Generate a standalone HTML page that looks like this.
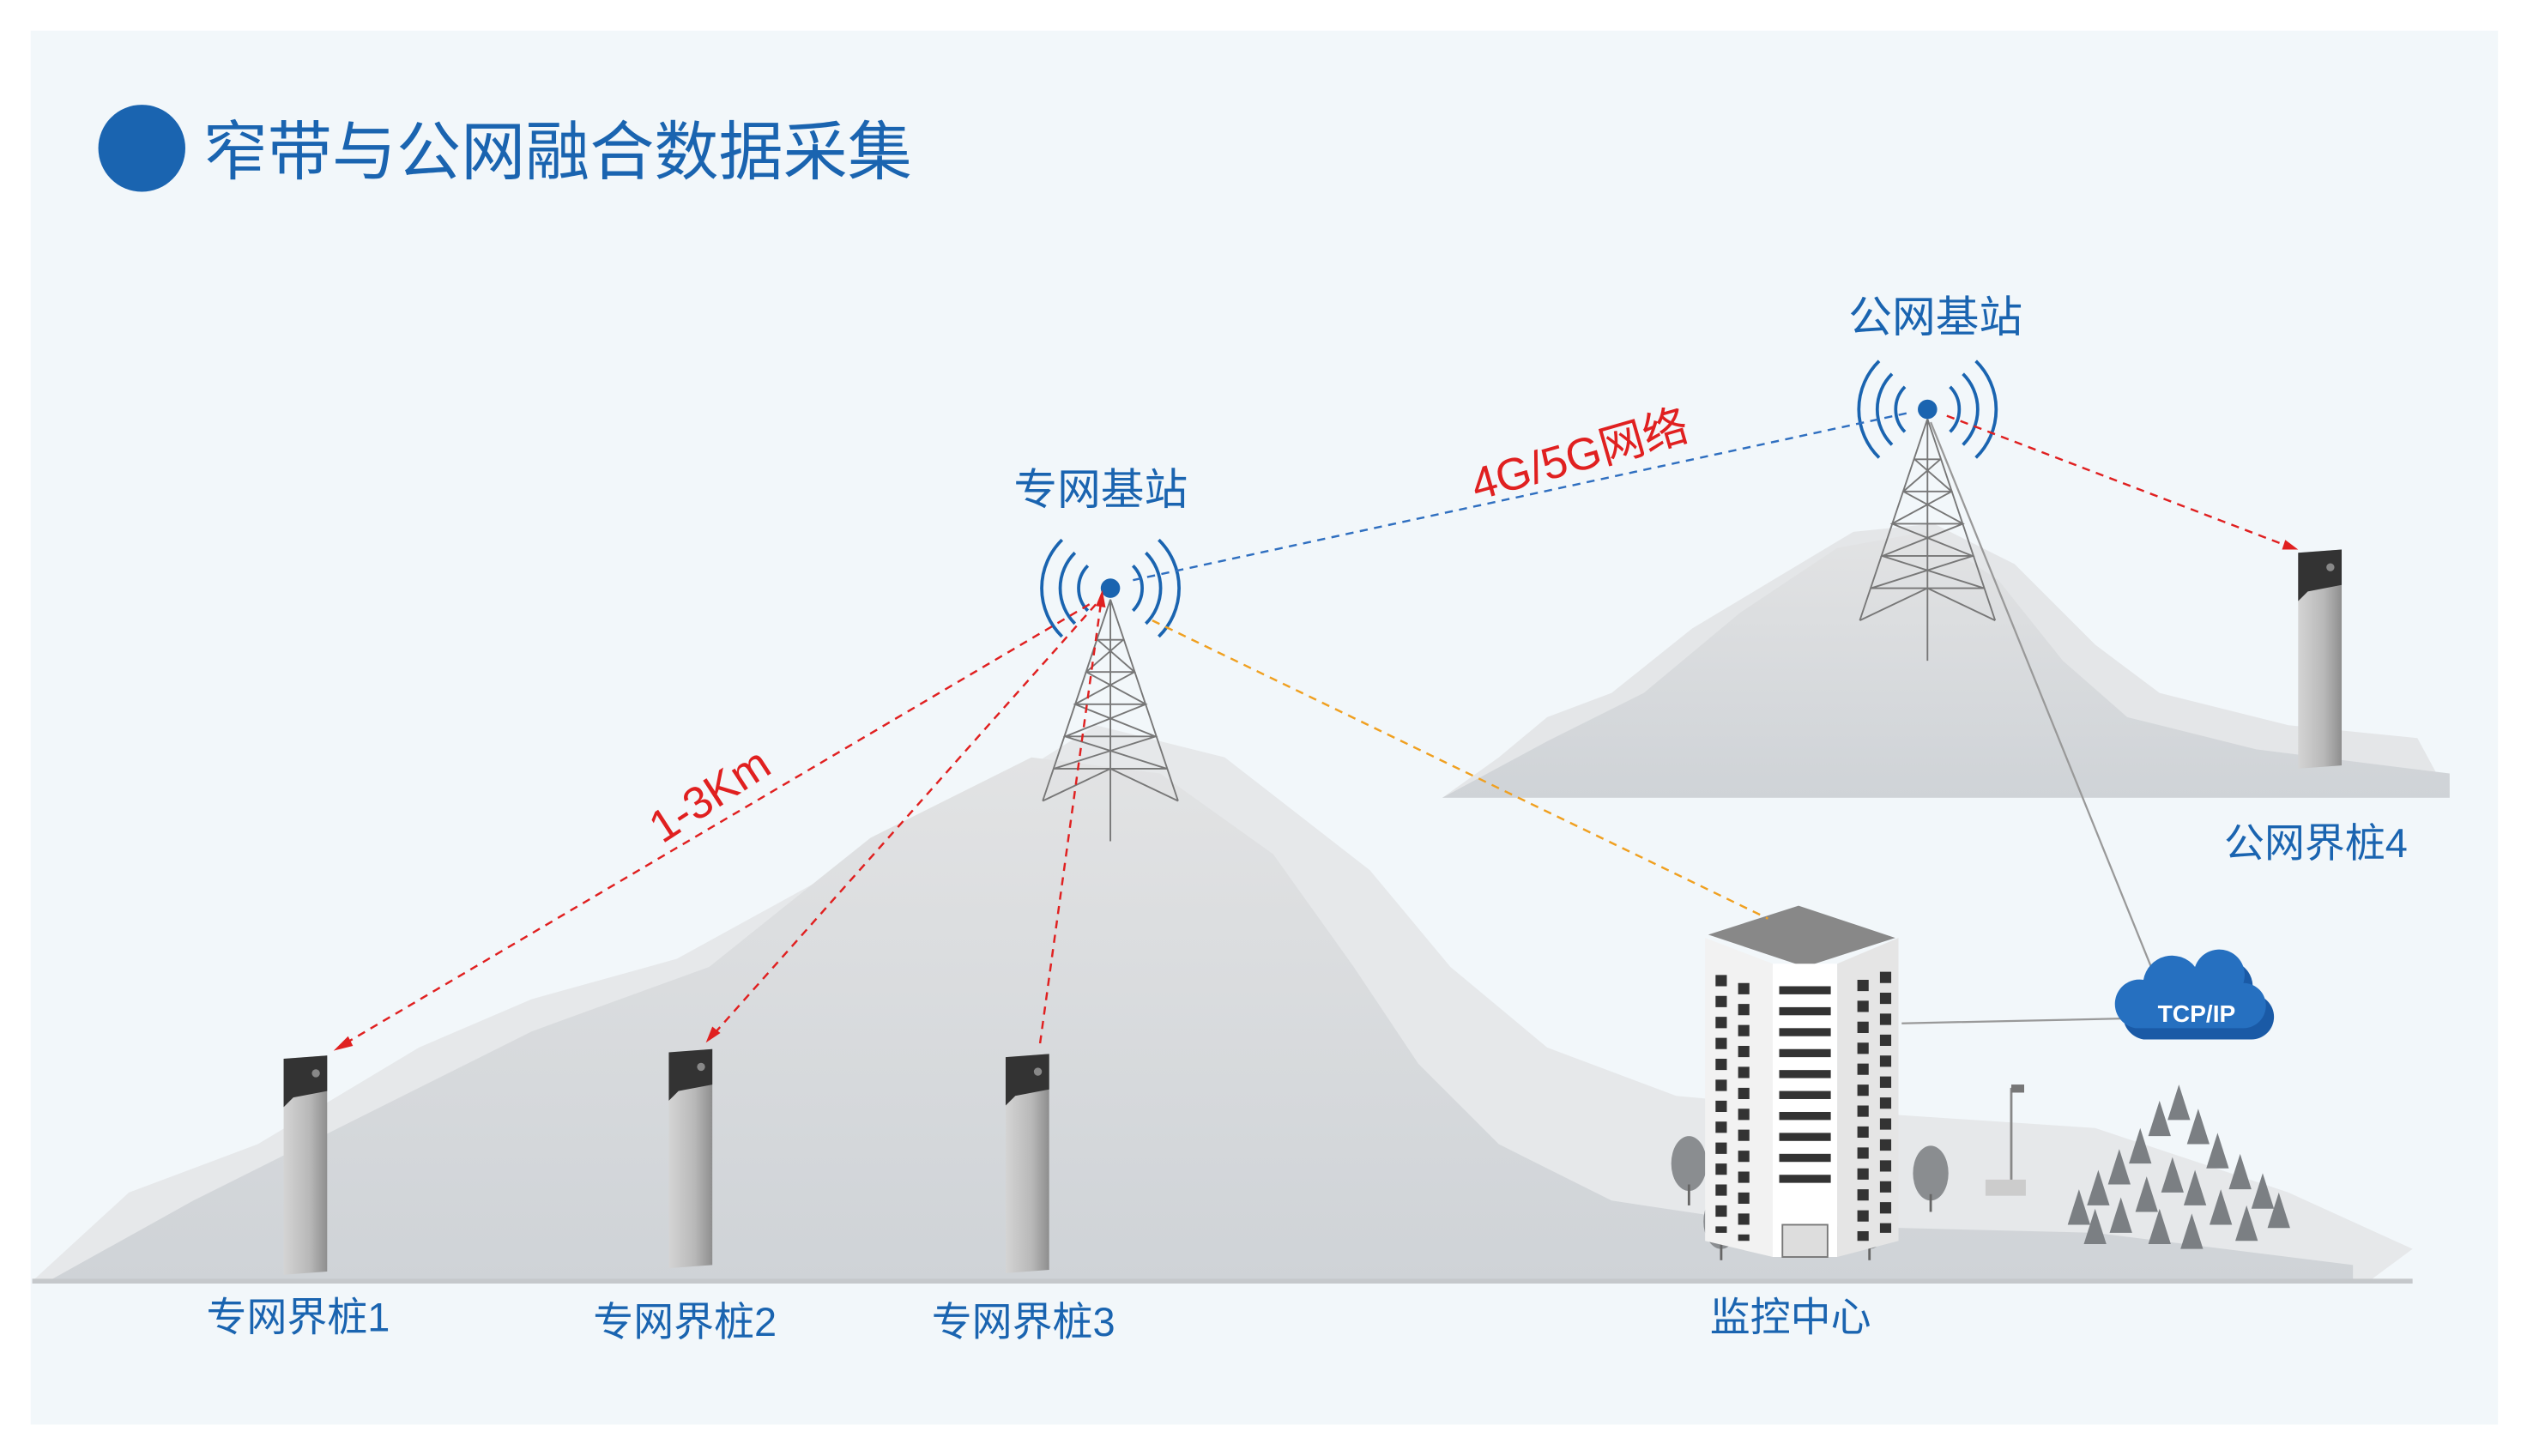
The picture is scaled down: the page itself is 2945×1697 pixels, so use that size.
<!DOCTYPE html>
<html><head><meta charset="utf-8"><style>
html,body{margin:0;padding:0;background:#fff;}
svg{display:block;}
text{font-family:"Liberation Sans","Noto Sans CJK SC",sans-serif;}
</style></head><body>
<svg width="2945" height="1697" viewBox="0 0 1568 903.5" preserveAspectRatio="none" xmlns="http://www.w3.org/2000/svg">
<defs>
<linearGradient id="mt" x1="0" y1="0" x2="0" y2="1"><stop offset="0" stop-color="#e2e3e4"/><stop offset="1" stop-color="#cfd3d7"/></linearGradient>
<linearGradient id="post" x1="0" y1="0" x2="1" y2="0"><stop offset="0" stop-color="#d4d4d4"/><stop offset="0.6" stop-color="#b8b8b8"/><stop offset="1" stop-color="#8e8e8e"/></linearGradient>
<g id="tower" stroke="#777" stroke-width="1" fill="none">
<path d="M0,0 L-42,125 M0,0 L42,125 M0,0 L0,150 M-8,25 L8,25 M-15,45 L15,45 M-22,65 L22,65 M-28,85 L28,85 M-35,105 L35,105 M-8,25 L15,45 L-22,65 L28,85 L-35,105 M8,25 L-15,45 L22,65 L-28,85 L35,105 M-42,125 L0,105 L42,125"/>
</g>
<g id="pst">
<polygon points="0,0 27,-2 27,132 0,134" fill="url(#post)"/>
<polygon points="0,0 27,-2 27,20 6,24 0,30" fill="#333"/>
<circle cx="20" cy="9" r="2.5" fill="#888"/>
</g>
<g id="waves" fill="none" stroke="#1a64b0" stroke-width="2">
<path d="M-14,-14 A20,20 0 0 0 -14,14 M-22,-22 A31,31 0 0 0 -22,22 M-30,-30 A42,42 0 0 0 -30,30 M14,-14 A20,20 0 0 1 14,14 M22,-22 A31,31 0 0 1 22,22 M30,-30 A42,42 0 0 1 30,30"/>
</g>
<path id="cf" d="M0,-22 L7,0 L-7,0 Z"/>
</defs>
<rect width="1568" height="903.5" fill="#fff"/>
<rect x="19" y="19" width="1531" height="865" fill="#f2f7fa"/>
<circle cx="88" cy="92" r="27" fill="#1a64b0"/>
<text x="126" y="108" font-size="40" fill="#1a64b0">窄带与公网融合数据采集</text>

<path d="M895,495 L930,470 L960,445 L1000,430 L1050,390 L1100,360 L1150,330 L1200,325 L1250,350 L1300,400 L1340,430 L1420,450 L1500,458 L1520,495 Z" fill="#e4e6e8"/>
<path d="M895,495 L960,460 L1020,430 L1080,380 L1140,340 L1195,330 L1240,360 L1280,410 L1320,445 L1400,465 L1520,480 L1520,495 Z" fill="url(#mt)"/>

<path d="M20,795 L80,740 L160,710 L260,650 L330,620 L420,595 L520,540 L600,500 L680,450 L760,470 L850,540 L900,600 L960,650 L1040,680 L1150,690 L1300,700 L1420,740 L1497,775 L1470,795 Z" fill="#e6e8ea"/>
<path d="M30,795 L120,745 L230,690 L330,640 L440,600 L540,520 L640,470 L720,480 L790,530 L840,600 L880,660 L930,710 L1000,745 L1100,760 L1300,765 L1460,785 L1460,795 Z" fill="url(#mt)"/>
<path d="M20,795 L1497,795" stroke="#c5c8cb" stroke-width="3"/>

<g fill="#7b7f83">
<use href="#cf" x="1290" y="760"/><use href="#cf" x="1302" y="748"/><use href="#cf" x="1315" y="735"/><use href="#cf" x="1328" y="722"/><use href="#cf" x="1340" y="705"/><use href="#cf" x="1352" y="695"/><use href="#cf" x="1364" y="710"/><use href="#cf" x="1376" y="725"/><use href="#cf" x="1390" y="738"/><use href="#cf" x="1404" y="750"/><use href="#cf" x="1414" y="762"/>
<use href="#cf" x="1300" y="772"/><use href="#cf" x="1316" y="765"/><use href="#cf" x="1332" y="752"/><use href="#cf" x="1348" y="740"/><use href="#cf" x="1362" y="748"/><use href="#cf" x="1378" y="760"/><use href="#cf" x="1394" y="770"/><use href="#cf" x="1340" y="772"/><use href="#cf" x="1360" y="775"/>
</g>
<g fill="#8a8d90"><ellipse cx="1048" cy="722" rx="11" ry="17"/><ellipse cx="1068" cy="758" rx="11" ry="17"/><ellipse cx="1198" cy="728" rx="11" ry="17"/><ellipse cx="1160" cy="758" rx="11" ry="17"/></g>
<g stroke="#666" stroke-width="1.5"><line x1="1048" y1="735" x2="1048" y2="748"/><line x1="1068" y1="771" x2="1068" y2="782"/><line x1="1198" y1="741" x2="1198" y2="752"/><line x1="1160" y1="771" x2="1160" y2="782"/></g>
<line x1="1248" y1="675" x2="1248" y2="735" stroke="#888" stroke-width="1.5"/>
<rect x="1248" y="673" width="8" height="5" fill="#777"/>
<rect x="1232" y="732" width="25" height="10" fill="#ccc"/>

<polygon points="1060,580 1116,562 1176,582 1120,600" fill="#888"/>
<polygon points="1058,582 1100,598 1100,780 1058,770" fill="#f2f2f2"/>
<polygon points="1100,598 1140,598 1140,780 1100,780" fill="#fff"/>
<polygon points="1140,598 1178,582 1178,770 1140,780" fill="#e5e5e5"/>
<g fill="#333">
<rect x="1104" y="612" width="32" height="5"/><rect x="1104" y="625" width="32" height="5"/><rect x="1104" y="638" width="32" height="5"/><rect x="1104" y="651" width="32" height="5"/><rect x="1104" y="664" width="32" height="5"/><rect x="1104" y="677" width="32" height="5"/><rect x="1104" y="690" width="32" height="5"/><rect x="1104" y="703" width="32" height="5"/><rect x="1104" y="716" width="32" height="5"/><rect x="1104" y="729" width="32" height="5"/>
</g>
<g stroke="#333" stroke-width="7" stroke-dasharray="7 6">
<line x1="1068" y1="605" x2="1068" y2="765"/><line x1="1082" y1="610" x2="1082" y2="770"/>
<line x1="1156" y1="608" x2="1156" y2="770"/><line x1="1170" y1="603" x2="1170" y2="765"/>
</g>
<rect x="1106" y="760" width="28" height="20" fill="#ddd" stroke="#777"/>

<use href="#tower" x="689" y="372"/>
<use href="#tower" x="1196" y="260"/>
<use href="#waves" x="689" y="365"/>
<use href="#waves" x="1196" y="254"/>
<circle cx="689" cy="365" r="6" fill="#1a64b0"/>
<circle cx="1196" cy="254" r="6" fill="#1a64b0"/>

<use href="#pst" x="176" y="657"/>
<use href="#pst" x="415" y="653"/>
<use href="#pst" x="624" y="656"/>
<use href="#pst" x="1426" y="343"/>

<g fill="none" stroke-width="1.3" stroke-dasharray="5 4">
<path d="M676,375 L210,650" stroke="#e02020"/>
<path d="M680,375 L440,645" stroke="#e02020"/>
<path d="M683,375 L645,650" stroke="#e02020"/>
<path d="M1208,258 L1425,341" stroke="#e02020"/>
<path d="M703,360 L1185,256" stroke="#2f6fc0"/>
<path d="M715,385 L1097,570" stroke="#f0a020"/>
</g>
<g fill="#e02020">
<polygon points="207,652 216,643 219,649"/><polygon points="438,647 442,637 447,641"/>
<polygon points="684,366 680,376 686,377"/><polygon points="1426,341 1416,341 1418,335"/>
</g>
<path d="M1198,262 L1338,608 M1180,635 L1320,632" stroke="#999" stroke-width="1.2" fill="none"/>

<path d="M1330,645 a15,15 0 0 1 5,-30 a18,18 0 0 1 32,-8 a15,15 0 0 1 30,10 a14,14 0 0 1 0,28 Z" fill="#1a5aa6"/>
<path d="M1325,638 a15,15 0 0 1 5,-30 a18,18 0 0 1 32,-8 a15,15 0 0 1 30,10 a14,14 0 0 1 0,28 Z" fill="#2670c0"/>
<text x="1363" y="634" font-size="15" font-weight="bold" fill="#fff" text-anchor="middle">TCP/IP</text>

<g fill="#1a64b0" font-size="25" text-anchor="middle">
<text x="683" y="313" font-size="27">专网基站</text>
<text x="1201" y="206" font-size="27">公网基站</text>
<text x="185" y="826">专网界桩1</text>
<text x="425" y="829">专网界桩2</text>
<text x="635" y="829">专网界桩3</text>
<text x="1111" y="826">监控中心</text>
<text x="1437" y="532">公网界桩4</text>
</g>
<text x="440" y="503" font-size="28" fill="#e02020" text-anchor="middle" transform="rotate(-33 440 493)">1-3Km</text>
<text x="980" y="292" font-size="28" fill="#e02020" text-anchor="middle" transform="rotate(-16 980 282)">4G/5G网络</text>
</svg>
</body></html>
